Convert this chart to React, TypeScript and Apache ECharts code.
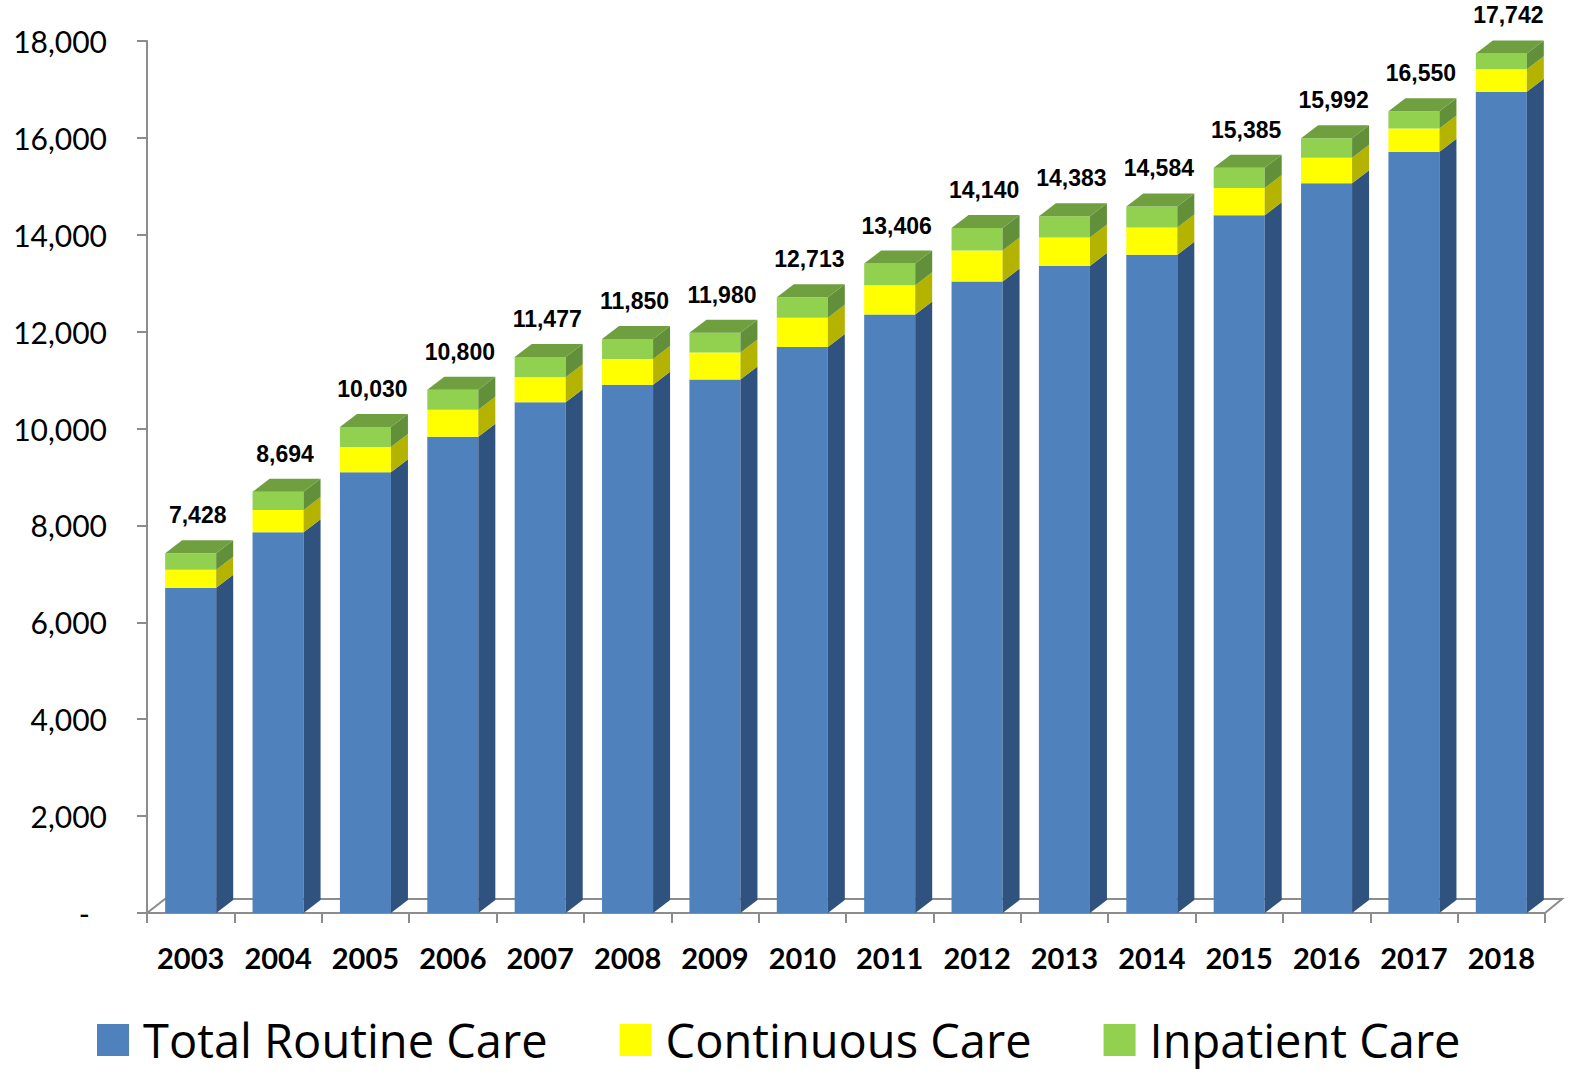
import React, { useEffect, useRef } from "react";
import * as echarts from "echarts";

const years = ["2003", "2004", "2005", "2006", "2007", "2008", "2009", "2010", "2011", "2012", "2013", "2014", "2015", "2016", "2017", "2018"];
const routineCare = [6715, 7857, 9097, 9832, 10543, 10902, 11011, 11682, 12355, 13034, 13358, 13586, 14402, 15064, 15712, 16951];
const continuousCare = [370, 461, 520, 556, 516, 536, 557, 604, 605, 639, 585, 565, 563, 524, 481, 468];
const inpatientCare = [343, 376, 413, 412, 418, 412, 412, 427, 446, 467, 440, 433, 420, 404, 357, 323];
const totals = [7428, 8694, 10030, 10800, 11477, 11850, 11980, 12713, 13406, 14140, 14383, 14584, 15385, 15992, 16550, 17742];
const yMin = 0;
const yMax = 18000;
const yInterval = 2000;

const DX = 17;
const DY = 13;
const AXIS_COLOR = "#8c8c8c";

const palette = {
  routine: { front: "#4f81bd", side: "#30527e", top: "#3d6a9e" },
  continuous: { front: "#ffff00", side: "#b3b300", top: "#d6d600" },
  inpatient: { front: "#92d050", side: "#62903a", top: "#6f9f3f" },
};

function fmt(v: number) {
  return v.toLocaleString("en-US");
}

function makeRender(colors: { front: string; side: string; top: string }, isTop: boolean) {
  return (params: any, api: any) => {
    const i = api.value(0);
    const lo = api.value(1);
    const hi = api.value(2);
    const pLo = api.coord([i, lo]);
    const pHi = api.coord([i, hi]);
    const band = api.size([1, 0])[0];
    const w = band * 0.584;
    const xl = pLo[0] - w / 2;
    const xr = pLo[0] + w / 2;
    const yb = pLo[1];
    const yt = pHi[1];
    const children: any[] = [
      {
        type: "rect",
        shape: { x: xl, y: yt, width: w, height: yb - yt },
        style: { fill: colors.front },
      },
      {
        type: "polygon",
        shape: { points: [[xr, yb], [xr, yt], [xr + DX, yt - DY], [xr + DX, yb - DY]] },
        style: { fill: colors.side },
      },
    ];
    if (isTop) {
      children.push({
        type: "polygon",
        shape: { points: [[xl, yt], [xl + DX, yt - DY], [xr + DX, yt - DY], [xr, yt]] },
        style: { fill: colors.top },
      });
      children.push({
        type: "text",
        x: pLo[0] + 7,
        y: yt - 38,
        style: {
          text: fmt(totals[params.dataIndex]),
          fill: "#000",
          fontSize: 23,
          fontWeight: "bold",
          fontFamily: '"Liberation Sans", Arial, sans-serif',
          align: "center",
          verticalAlign: "middle",
        },
      });
    }
    return { type: "group", children };
  };
}

export default function App() {
  const ref = useRef<HTMLDivElement>(null);
  useEffect(() => {
    if (!ref.current) return;
    const chart = echarts.init(ref.current, undefined, { renderer: "svg" });
    const routineData = years.map((_, i) => [i, 0, routineCare[i]]);
    const contData = years.map((_, i) => [i, routineCare[i], routineCare[i] + continuousCare[i]]);
    const inpData = years.map((_, i) => [
      i,
      routineCare[i] + continuousCare[i],
      routineCare[i] + continuousCare[i] + inpatientCare[i],
    ]);
    chart.setOption({
      animation: false,
      backgroundColor: "#ffffff",
      grid: { left: 147, right: 24, top: 41, bottom: 160, containLabel: false },
      legend: {
        left: 92,
        top: 1010,
        itemWidth: 32,
        itemHeight: 32,
        itemGap: 72,
        icon: "rect",
        textStyle: {
          fontSize: 47,
          lineHeight: 50,
          fontFamily: '"Open Sans", sans-serif',
          color: "#000",
          padding: [0, 0, 0, 9],
        },
        data: [
          { name: "Total Routine Care", itemStyle: { color: palette.routine.front } },
          { name: "Continuous Care", itemStyle: { color: palette.continuous.front } },
          { name: "Inpatient Care", itemStyle: { color: palette.inpatient.front } },
        ],
      },
      xAxis: {
        type: "category",
        data: years,
        boundaryGap: true,
        axisLine: { show: true, lineStyle: { color: AXIS_COLOR, width: 2 } },
        axisTick: { show: true, length: 10, lineStyle: { color: AXIS_COLOR, width: 2 } },
        axisLabel: {
          margin: 30,
          fontSize: 29,
          fontWeight: "bold",
          fontFamily: "Lato, sans-serif",
          color: "#000",
          interval: 0,
        },
        splitLine: { show: false },
      },
      yAxis: {
        type: "value",
        min: yMin,
        max: yMax,
        interval: yInterval,
        axisLine: { show: true, lineStyle: { color: AXIS_COLOR, width: 2 } },
        axisTick: { show: true, length: 10, lineStyle: { color: AXIS_COLOR, width: 2 } },
        axisLabel: {
          margin: 40,
          fontSize: 30,
          fontFamily: "Lato, sans-serif",
          color: "#000",
          formatter: (v: number) => (v === 0 ? "{d|-}" : fmt(v)),
          rich: { d: { fontSize: 30, fontFamily: "Lato, sans-serif", color: "#000", padding: [0, 17, 0, 0] } },
        },
        splitLine: { show: false },
      },
      series: [
        {
          name: "floor",
          type: "custom",
          silent: true,
          clip: false,
          z: 1,
          data: [[0, 0, 0]],
          encode: { x: 0, y: 1 },
          renderItem: (params: any) => {
            const cs = params.coordSys;
            const yb = cs.y + cs.height;
            return {
              type: "polyline",
              shape: {
                points: [
                  [cs.x, yb],
                  [cs.x + DX + 1, yb - DY - 1],
                  [cs.x + cs.width + DX, yb - DY - 1],
                  [cs.x + cs.width, yb],
                ],
              },
              style: { stroke: AXIS_COLOR, lineWidth: 2, fill: "none" },
            };
          },
        },
        {
          name: "Total Routine Care",
          type: "custom",
          clip: false,
          z: 2,
          itemStyle: { color: palette.routine.front },
          data: routineData,
          encode: { x: 0, y: [1, 2] },
          renderItem: makeRender(palette.routine, false),
        },
        {
          name: "Continuous Care",
          type: "custom",
          clip: false,
          z: 2,
          itemStyle: { color: palette.continuous.front },
          data: contData,
          encode: { x: 0, y: [1, 2] },
          renderItem: makeRender(palette.continuous, false),
        },
        {
          name: "Inpatient Care",
          type: "custom",
          clip: false,
          z: 2,
          itemStyle: { color: palette.inpatient.front },
          data: inpData,
          encode: { x: 0, y: [1, 2] },
          renderItem: makeRender(palette.inpatient, true),
        },
      ],
    });
    return () => chart.dispose();
  }, []);
  return (
    <div
      ref={ref}
      style={{ position: "absolute", left: 0, top: 0, width: 1569, height: 1073, background: "#fff" }}
    />
  );
}
